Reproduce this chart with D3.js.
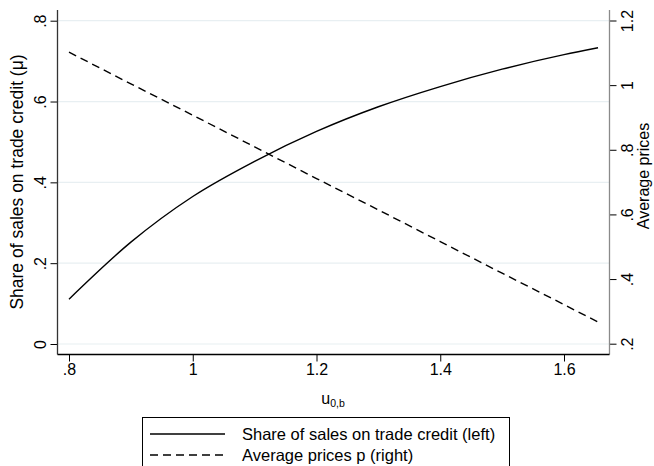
<!DOCTYPE html>
<html>
<head>
<meta charset="utf-8">
<script src="https://cdn.jsdelivr.net/npm/d3@7"></script>
<style>
  html, body { margin: 0; padding: 0; background: #fff; }
  svg { display: block; font-family: "Liberation Sans", Arial, Helvetica, sans-serif; }
</style>
</head>
<body>
<svg id="chart" width="654" height="466"></svg>
<script>
// u_{0,b} grid
const uValues = [0.8, 0.9, 1.0, 1.1, 1.2, 1.3, 1.4, 1.5, 1.6, 1.655];
// Share of sales on trade credit (left axis)
const shareCredit = [0.111, 0.252, 0.365, 0.452, 0.526, 0.587, 0.637, 0.68, 0.716, 0.733];
// Average prices p (right axis)
const avgPrices = [1.102, 1.004, 0.907, 0.809, 0.711, 0.614, 0.516, 0.418, 0.321, 0.267];

const xTicks = [0.8, 1.0, 1.2, 1.4, 1.6];
const leftTicks = [0, 0.2, 0.4, 0.6, 0.8];
const rightTicks = [0.2, 0.4, 0.6, 0.8, 1.0, 1.2];

const fmt = v => {
  if (v === 0) return "0";
  const s = d3.format("~g")(v);
  return s.replace(/^0\./, ".");
};

const svg = d3.select("#chart");
const plot = { left: 57.5, right: 609.5, top: 10, bottom: 354.5 };

const x = d3.scaleLinear().domain([0.8, 1.6]).range([69, 564]);
const yL = d3.scaleLinear().domain([0, 0.8]).range([344, 20.7]);
const yR = d3.scaleLinear().domain([0.2, 1.2]).range([343.7, 20.5]);

// grid lines at left-axis ticks
svg.append("g").selectAll("line").data(leftTicks).join("line")
  .attr("x1", plot.left).attr("x2", plot.right)
  .attr("y1", d => yL(d)).attr("y2", d => yL(d))
  .attr("stroke", "#e8eff2").attr("stroke-width", 1.2);

// left axis
const gL = svg.append("g").attr("transform", `translate(${plot.left},0)`)
  .call(d3.axisLeft(yL).tickValues(leftTicks).tickFormat(fmt).tickSize(7).tickSizeOuter(0));
gL.select(".domain").remove();
gL.selectAll(".tick line").attr("stroke", "#000");
gL.selectAll(".tick text")
  .attr("font-size", 16).attr("fill", "#000")
  .attr("x", 0).attr("dy", 0)
  .attr("text-anchor", "middle")
  .attr("transform", "translate(-12,0) rotate(-90)");
svg.append("line").attr("x1", plot.left).attr("x2", plot.left)
  .attr("y1", plot.top).attr("y2", plot.bottom).attr("stroke", "#333").attr("stroke-width", 1.3);

// right axis
const gR = svg.append("g").attr("transform", `translate(${plot.right},0)`)
  .call(d3.axisRight(yR).tickValues(rightTicks).tickFormat(fmt).tickSize(7).tickSizeOuter(0));
gR.select(".domain").remove();
gR.selectAll(".tick line").attr("stroke", "#000");
gR.selectAll(".tick text")
  .attr("font-size", 16).attr("fill", "#000")
  .attr("x", 0).attr("dy", 0)
  .attr("text-anchor", "middle")
  .attr("transform", "translate(23,0) rotate(-90)");
svg.append("line").attr("x1", plot.right).attr("x2", plot.right)
  .attr("y1", plot.top).attr("y2", plot.bottom).attr("stroke", "#8a8a8a").attr("stroke-width", 1.3);

// bottom axis
const gB = svg.append("g").attr("transform", `translate(0,${plot.bottom})`)
  .call(d3.axisBottom(x).tickValues(xTicks).tickFormat(fmt).tickSize(7).tickSizeOuter(0));
gB.select(".domain").remove();
gB.selectAll(".tick line").attr("stroke", "#000");
gB.selectAll(".tick text").attr("font-size", 16).attr("fill", "#000").attr("y", 9).attr("dy", "0.71em");
svg.append("line").attr("x1", plot.left).attr("x2", plot.right)
  .attr("y1", plot.bottom).attr("y2", plot.bottom).attr("stroke", "#000").attr("stroke-width", 1.3);

// axis titles
svg.append("text").attr("transform", "translate(23,182) rotate(-90)")
  .attr("text-anchor", "middle").attr("font-size", 17.5).attr("fill", "#000")
  .text("Share of sales on trade credit (μ)");
svg.append("text").attr("transform", "translate(649,176) rotate(-90)")
  .attr("text-anchor", "middle").attr("font-size", 16).attr("fill", "#000")
  .text("Average prices");
const xt = svg.append("text").attr("x", 333).attr("y", 404)
  .attr("text-anchor", "middle").attr("font-size", 16).attr("fill", "#000");
xt.append("tspan").text("u");
xt.append("tspan").attr("font-size", 10.5).attr("dy", 3).text("0,b");

// series
const idx = d3.range(uValues.length);
const lineL = d3.line().x(i => x(uValues[i])).y(i => yL(shareCredit[i])).curve(d3.curveMonotoneX);
const lineR = d3.line().x(i => x(uValues[i])).y(i => yR(avgPrices[i]));

svg.append("path").attr("d", lineL(idx)).attr("fill", "none")
  .attr("stroke", "#000").attr("stroke-width", 1.4);
svg.append("path").attr("d", lineR(idx)).attr("fill", "none")
  .attr("stroke", "#000").attr("stroke-width", 1.4).attr("stroke-dasharray", "8,5");

// legend
const lg = svg.append("g");
lg.append("rect").attr("x", 142.5).attr("y", 417.5).attr("width", 367).attr("height", 60)
  .attr("fill", "#fff").attr("stroke", "#000").attr("stroke-width", 1);
const legendItems = [
  { label: "Share of sales on trade credit (left)", dash: null, y: 434 },
  { label: "Average prices p (right)", dash: "8,5", y: 455 }
];
legendItems.forEach(it => {
  lg.append("line").attr("x1", 150).attr("x2", 225).attr("y1", it.y).attr("y2", it.y)
    .attr("stroke", "#000").attr("stroke-width", 1.4)
    .attr("stroke-dasharray", it.dash);
  lg.append("text").attr("x", 242).attr("y", it.y).attr("dy", "0.35em")
    .attr("font-size", 16.5).attr("fill", "#000").text(it.label);
});
</script>
</body>
</html>
